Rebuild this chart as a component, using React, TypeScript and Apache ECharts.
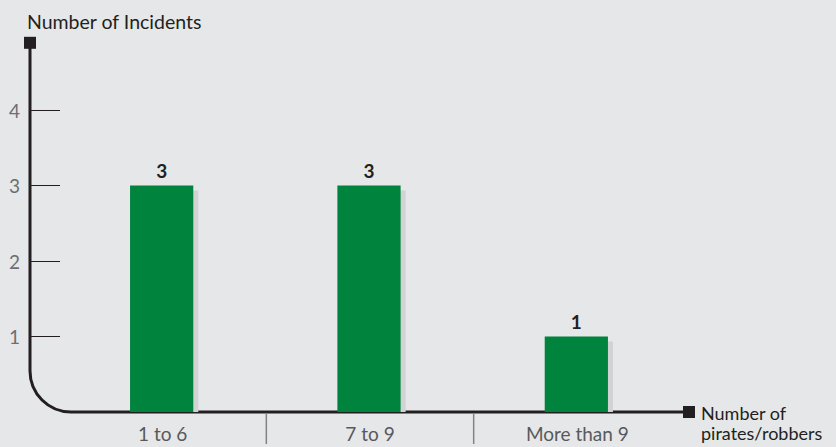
import React, { useEffect, useRef } from "react";
import * as echarts from "echarts";

// Incidents by size of the attacking group
const categories = ["1 to 6", "7 to 9", "More than 9"];
const incidents = [3, 3, 1];
const yTicks = [1, 2, 3, 4];
const yAxisTitle = "Number of Incidents";
const xAxisTitle = "Number of\npirates/robbers";

const INK = "#231f20";
const GREY = "#58595b";
const GREEN = "#00843d";
const SHADOW = "#d1d2d4";
const BG = "#e6e7e8";
const RULE = "#808285";
const FONT = "Lato, 'Open Sans', sans-serif";

const WIDTH = 836;
const HEIGHT = 447;

export default function App() {
  const ref = useRef<HTMLDivElement>(null);

  useEffect(() => {
    document.body.style.margin = "0";
    const el = ref.current!;
    const chart = echarts.init(el, null, { renderer: "svg" });

    const gridLeft = 59;
    const gridRight = 155;
    const gridTop = 110;
    const gridBottom = 35;
    const axisOffset = 29;

    chart.setOption({
      animation: false,
      backgroundColor: BG,
      title: {
        text: yAxisTitle,
        left: 22,
        top: 6,
        textStyle: { fontFamily: FONT, fontSize: 19.5, fontWeight: "normal", color: INK },
      },
      grid: { left: gridLeft, right: gridRight, top: gridTop, bottom: gridBottom, containLabel: false },
      xAxis: {
        type: "category",
        data: categories,
        axisLine: { show: false },
        axisTick: { show: false },
        axisLabel: { margin: 12, fontFamily: FONT, fontSize: 19, color: GREY },
      },
      yAxis: {
        type: "value",
        min: 0,
        max: 4,
        interval: 1,
        offset: axisOffset,
        axisLine: { show: false },
        splitLine: { show: false },
        axisTick: {
          show: true,
          inside: true,
          length: 30,
          customValues: yTicks,
          lineStyle: { color: INK, width: 1 },
        },
        axisLabel: {
          customValues: yTicks,
          margin: 10,
          fontFamily: FONT,
          fontSize: 19,
          color: "#6d6e71",
        },
      },
      series: [
        {
          type: "custom",
          data: incidents.map((v, i) => [i, v]),
          encode: { x: 0, y: 1 },
          renderItem: (params: any, api: any) => {
            const idx = api.value(0);
            const val = api.value(1);
            const top = api.coord([idx, val]);
            const base = api.coord([idx, 0]);
            const bw = api.size([1, 0])[0] * 0.305;
            const x = top[0] - bw / 2 - 1;
            const h = base[1] - top[1];
            return {
              type: "group",
              children: [
                {
                  type: "rect",
                  shape: { x: x + 5, y: top[1] + 5, width: bw, height: h - 5 },
                  style: { fill: SHADOW },
                },
                {
                  type: "rect",
                  shape: { x, y: top[1], width: bw, height: h },
                  style: { fill: GREEN },
                },
                {
                  type: "text",
                  x: top[0] - 1,
                  y: top[1] - 6,
                  style: {
                    text: String(val),
                    fill: INK,
                    font: `bold 19px ${FONT}`,
                    textAlign: "center",
                    textVerticalAlign: "bottom",
                    align: "center",
                    verticalAlign: "bottom",
                  },
                },
              ],
            };
          },
        },
      ],
    });

    // Axis frame with rounded corner, end squares and category separators
    const y0 = chart.convertToPixel({ yAxisIndex: 0 }, 0) as number;
    const yMax = chart.convertToPixel({ yAxisIndex: 0 }, yTicks[yTicks.length - 1]) as number;
    const unit = (y0 - yMax) / yTicks[yTicks.length - 1];
    const axisX = gridLeft - axisOffset;
    const axisTop = yMax - unit * 0.89;
    const xEnd = WIDTH - gridRight + 2;
    const r = 41;
    const centers = categories.map((c) => chart.convertToPixel({ xAxisIndex: 0 }, c) as number);

    const frame: any[] = [
      {
        type: "line",
        shape: { x1: axisX, y1: axisTop, x2: axisX, y2: y0 - r },
        style: { stroke: INK, lineWidth: 3 },
      },
      {
        type: "arc",
        shape: { cx: axisX + r, cy: y0 - r, r, startAngle: Math.PI / 2, endAngle: Math.PI, clockwise: true },
        style: { stroke: INK, lineWidth: 3, fill: "none" },
      },
      {
        type: "line",
        shape: { x1: axisX + r, y1: y0, x2: xEnd, y2: y0 },
        style: { stroke: INK, lineWidth: 3 },
      },
      {
        type: "rect",
        shape: { x: axisX - 6, y: axisTop - 6, width: 12, height: 12 },
        style: { fill: INK },
      },
      {
        type: "rect",
        shape: { x: xEnd, y: y0 - 6, width: 12, height: 12 },
        style: { fill: INK },
      },
      {
        type: "text",
        x: xEnd + 18,
        y: y0 - 9,
        style: {
          text: xAxisTitle,
          fill: INK,
          font: `18px ${FONT}`,
          lineHeight: 20,
          textAlign: "left",
          textVerticalAlign: "top",
          align: "left",
          verticalAlign: "top",
        },
      },
    ];
    for (let i = 1; i < centers.length; i++) {
      const bx = (centers[i - 1] + centers[i]) / 2;
      frame.push({
        type: "line",
        shape: { x1: bx, y1: y0 + 2, x2: bx, y2: y0 + 32 },
        style: { stroke: RULE, lineWidth: 1.5 },
      });
    }
    chart.setOption({ graphic: frame });

    return () => chart.dispose();
  }, []);

  return <div ref={ref} style={{ width: WIDTH, height: HEIGHT }} />;
}
